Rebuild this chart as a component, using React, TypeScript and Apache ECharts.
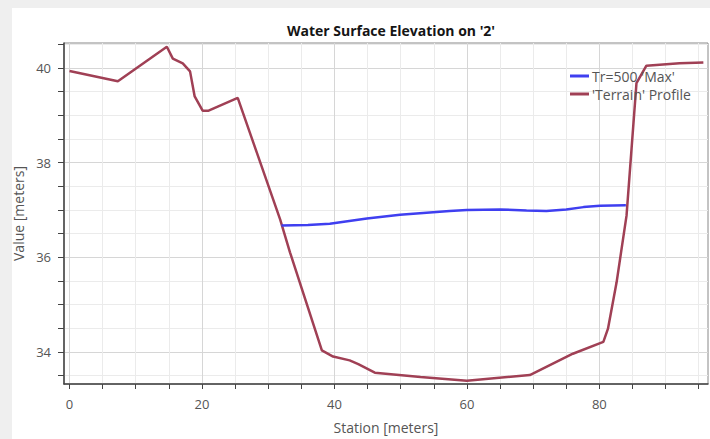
import React, { useEffect, useRef } from "react";
import * as echarts from "echarts";

const terrainX = [0, 7.3, 14.7, 15.6, 17.1, 18.2, 18.9, 20.1, 21, 25.4, 31.8, 33.3, 38.1, 39.8, 42.3, 43.6, 46.1, 53, 60, 69.5, 76, 80.6, 81.3, 82.6, 84.1, 85.6, 87.1, 92.1, 95.7];
const terrainY = [39.94, 39.72, 40.45, 40.2, 40.1, 39.93, 39.4, 39.1, 39.1, 39.37, 36.8, 36.1, 34.03, 33.9, 33.82, 33.74, 33.56, 33.47, 33.39, 33.51, 33.96, 34.21, 34.49, 35.47, 36.88, 39.68, 40.05, 40.1, 40.12];

const waterX = [32, 36, 39.3, 44.9, 49.9, 57.4, 60, 65, 69, 72, 75, 77.6, 80.1, 84];
const waterY = [36.67, 36.68, 36.71, 36.82, 36.9, 36.98, 37.0, 37.01, 36.99, 36.98, 37.01, 37.06, 37.09, 37.1];

const xTicks = [0, 5, 10, 15, 20, 25, 30, 35, 40, 45, 50, 55, 60, 65, 70, 75, 80, 85, 90, 95];
const xLabels = [0, 20, 40, 60, 80];
const yTicks = [33.5, 34, 34.5, 35, 35.5, 36, 36.5, 37, 37.5, 38, 38.5, 39, 39.5, 40, 40.5];
const yLabels = [34, 36, 38, 40];

const title = "Water Surface Elevation on '2'";
const seriesNames = ["Tr=500 'Max'", "'Terrain' Profile"];

export default function App() {
  const ref = useRef<HTMLDivElement>(null);
  useEffect(() => {
    if (!ref.current) return;
    const chart = echarts.init(ref.current, null, { renderer: "svg" });
    const font = "'Open Sans', 'Noto Sans', sans-serif";
    const light = "#ebebeb";
    const dark = "#d6d6d6";
    chart.setOption({
      animation: false,
      backgroundColor: "#efefef",
      textStyle: { fontFamily: font },
      graphic: [
        {
          type: "rect",
          z: -10,
          silent: true,
          shape: { x: 12, y: 8, width: 698, height: 431 },
          style: { fill: "#ffffff" },
        },
      ],
      title: {
        text: title,
        left: 386,
        textAlign: "center",
        top: 18,
        textStyle: { fontSize: 14, fontWeight: "bold", color: "#151515", fontFamily: font },
      },
      legend: {
        orient: "vertical",
        left: 565,
        top: 64,
        itemWidth: 19,
        itemHeight: 3,
        itemGap: 4,
        icon: "rect",
        textStyle: { fontSize: 14, color: "#555", padding: [0, 0, 0, -2] },
        data: seriesNames,
      },
      grid: {
        left: 64,
        top: 43,
        right: 2,
        bottom: 54,
        show: true,
        borderColor: "#888",
        borderWidth: 1,
      },
      xAxis: {
        type: "value",
        min: -0.83,
        max: 96.4,
        name: "Station [meters]",
        nameLocation: "middle",
        nameGap: 36,
        nameTextStyle: { fontSize: 14, color: "#555" },
        axisLine: { show: true, onZero: false, lineStyle: { color: "#444", width: 1.5 } },
        axisTick: { show: true, length: 5, customValues: xTicks, lineStyle: { color: "#444" } },
        axisLabel: { customValues: xLabels, fontSize: 13, color: "#555", margin: 13 },
        splitLine: { show: true, lineStyle: { color: [dark, light, light, light], width: 1 } },
      },
      yAxis: {
        type: "value",
        min: 33.32,
        max: 40.53,
        name: "Value [meters]",
        nameLocation: "middle",
        nameGap: 35,
        nameTextStyle: { fontSize: 14, color: "#555" },
        axisLine: { show: true, onZero: false, lineStyle: { color: "#444", width: 1.5 } },
        axisTick: { show: true, length: 6, customValues: yTicks, lineStyle: { color: "#444" } },
        axisLabel: { customValues: yLabels, fontSize: 13, color: "#555", margin: 13 },
        splitLine: { show: true, lineStyle: { color: [light, dark, light, light], width: 1 } },
      },
      series: [
        {
          name: seriesNames[0],
          type: "line",
          data: waterX.map((x, i) => [x, waterY[i]]),
          showSymbol: false,
          color: "#3f3ff0",
          lineStyle: { width: 2.5, color: "#3f3ff0" },
          z: 3,
        },
        {
          name: seriesNames[1],
          type: "line",
          data: terrainX.map((x, i) => [x, terrainY[i]]),
          showSymbol: false,
          color: "#a04055",
          lineStyle: { width: 2.5, color: "#a04055" },
          z: 2,
        },
      ],
    });
    return () => chart.dispose();
  }, []);
  return (
    <div
      ref={ref}
      style={{ position: "absolute", left: 0, top: 0, width: 710, height: 439 }}
    />
  );
}
